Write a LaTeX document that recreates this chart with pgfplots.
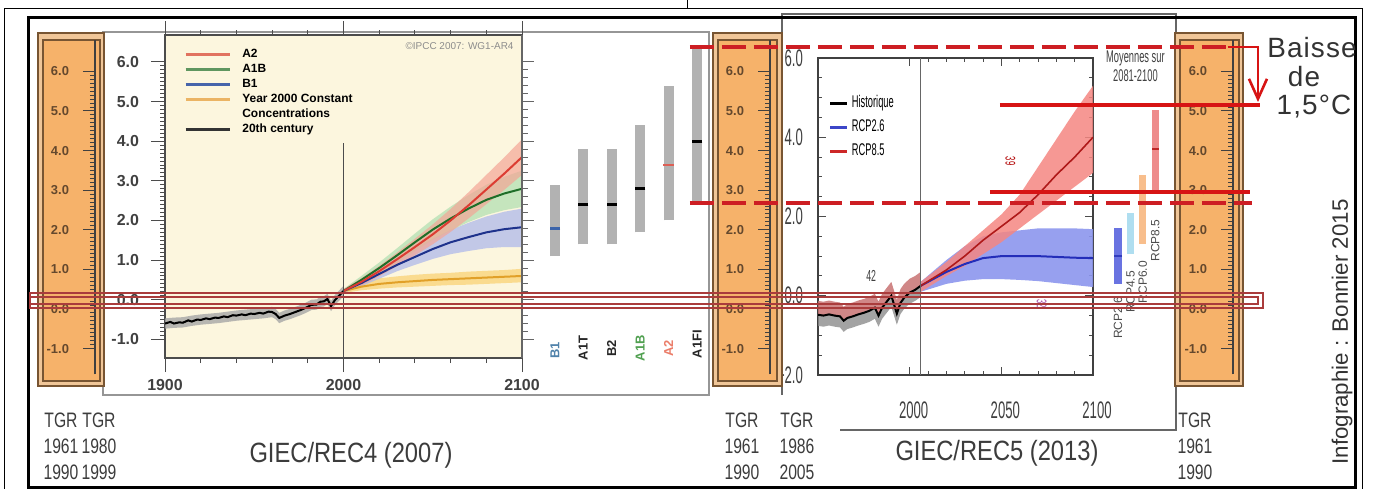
\documentclass[border=0pt]{standalone}
\usepackage{fontspec}
\setmainfont{Liberation Sans}
\newfontfamily\condA[FakeStretch=0.55]{Liberation Sans}
\newfontfamily\condB[FakeStretch=0.75]{Liberation Sans}
\newfontfamily\condC[FakeStretch=0.85]{Liberation Sans}
\newfontfamily\spaced[LetterSpace=4]{Liberation Sans}
\usepackage{pgfplots}
\usepackage{pgfplotstable}
\usetikzlibrary{arrows.meta}
\pgfplotsset{compat=1.18}

\definecolor{cream}{RGB}{252,246,222}
\definecolor{orOut}{RGB}{240,198,152}
\definecolor{orIn}{RGB}{246,178,106}
\definecolor{brownB}{RGB}{120,85,50}
\definecolor{scaleTxt}{RGB}{100,72,45}
\definecolor{panelGray}{RGB}{150,150,150}
\definecolor{barGray}{RGB}{178,178,178}
\definecolor{redA}{RGB}{205,30,35}
\definecolor{redB}{RGB}{215,20,20}
\definecolor{boxRed}{RGB}{170,60,60}
\definecolor{a2c}{RGB}{220,60,50}
\definecolor{a2band}{RGB}{244,165,150}
\definecolor{a1bc}{RGB}{30,110,40}
\definecolor{a1bband}{RGB}{175,222,175}
\definecolor{b1c}{RGB}{30,50,140}
\definecolor{b1band}{RGB}{175,185,235}
\definecolor{cstc}{RGB}{225,160,40}
\definecolor{cstband}{RGB}{250,215,130}
\definecolor{rcpEbB}{RGB}{245,135,130}
\definecolor{rcpEbC}{RGB}{175,25,25}
\definecolor{rcpTwB}{RGB}{140,150,238}
\definecolor{rcpTwC}{RGB}{35,45,185}
\definecolor{histpink}{RGB}{200,115,115}
\definecolor{txtGray}{RGB}{60,60,60}

% ---------------- data (central lines) ----------------
\pgfplotstableread{
x y
1900 -0.60
1903 -0.56
1905 -0.60
1908 -0.57
1910 -0.58
1913 -0.52
1915 -0.55
1918 -0.50
1920 -0.51
1923 -0.47
1925 -0.49
1928 -0.45
1930 -0.46
1933 -0.42
1935 -0.44
1938 -0.39
1940 -0.40
1943 -0.37
1945 -0.39
1948 -0.35
1950 -0.36
1953 -0.33
1955 -0.35
1958 -0.30
1960 -0.31
1962 -0.36
1964 -0.46
1967 -0.40
1970 -0.36
1973 -0.31
1976 -0.26
1979 -0.20
1982 -0.13
1985 -0.12
1987 -0.05
1989 -0.04
1991 0.02
1993 -0.16
1995 -0.02
1997 0.08
2000 0.22
}\twentieth
\pgfplotstableread{
x y
2000 0.22
2010 0.45
2020 0.72
2030 1.02
2040 1.33
2050 1.65
2060 2.00
2070 2.38
2080 2.78
2090 3.18
2100 3.60
}\atwo
\pgfplotstableread{
x y
2000 0.22
2010 0.50
2020 0.80
2030 1.12
2040 1.45
2050 1.77
2060 2.05
2070 2.30
2080 2.52
2090 2.68
2100 2.80
}\aoneb
\pgfplotstableread{
x y
2000 0.22
2010 0.42
2020 0.65
2030 0.88
2040 1.08
2050 1.28
2060 1.45
2070 1.58
2080 1.70
2090 1.78
2100 1.83
}\bone
\pgfplotstableread{
x y
2000 0.22
2010 0.33
2020 0.40
2030 0.44
2040 0.47
2050 0.50
2060 0.52
2070 0.54
2080 0.56
2090 0.58
2100 0.60
}\cst
\pgfplotstableread{
x y
1950 -0.48
1953 -0.50
1956 -0.47
1959 -0.50
1962 -0.52
1964 -0.63
1966 -0.56
1969 -0.52
1972 -0.47
1975 -0.43
1978 -0.38
1981 -0.30
1983 -0.50
1985 -0.30
1987 -0.18
1990 0.00
1993 -0.45
1995 -0.18
1997 -0.05
2000 0.08
2003 0.15
2006 0.25
}\hist
\pgfplotstableread{
x y
2006 0.25
2020 0.65
2030 1.00
2040 1.40
2050 1.75
2060 2.10
2070 2.55
2080 3.05
2090 3.50
2100 4.00
}\rcpeight
\pgfplotstableread{
x y
2006 0.25
2020 0.60
2030 0.80
2040 0.95
2050 1.00
2060 1.00
2070 1.00
2080 0.98
2090 0.96
2100 0.95
}\rcptwo

\pgfplotsset{
  scaleaxis/.style={anchor=south west, scale only axis, width=2bp, height=167.3bp,
    xmin=0, xmax=1, ymin=-1.65, ymax=6.8,
    axis x line=none, axis y line*=left,
    ytick={-1,0,...,6}, minor y tick num=9,
    tick align=outside, major tick length=6bp, minor tick length=2.5bp,
    axis line style={line width=0.8bp, black!75},
    tick style={line width=0.5bp, black!75},
    /pgf/number format/assume math mode=true,
    yticklabel style={xshift=-3.5bp, font=\bfseries\fontsize{6.5}{7}\selectfont, text=scaleTxt,
      /pgf/number format/.cd, fixed, fixed zerofill, precision=1}},
}

\begin{document}
\begin{tikzpicture}
\useasboundingbox (0bp,0bp) rectangle (688.5bp,-244.5bp);

\begin{scope}[x=0.5bp,y=-0.5bp]
  \fill[white] (0,0) rectangle (1377,489);
  \draw[line width=0.5bp] (5,489) -- (5,9) -- (1363,9) -- (1363,489);
  \draw[line width=0.5bp] (688,0) -- (688,9);
  \draw[panelGray, line width=1.2bp, fill=white] (103,32) rectangle (709,395);
  \draw[black!60, line width=1bp] (782,395) -- (782,14) -- (1176,14) -- (1176,430) -- (840,430);
\end{scope}

% ---------------- AR4 chart ----------------
\begin{axis}[at={(82.5bp,-179bp)}, anchor=south west, scale only axis,
  width=178.5bp, height=161.5bp,
  xmin=1900, xmax=2100, ymin=-1.47, ymax=6.68,
  axis background/.style={fill=cream},
  axis line style={draw=black!70, line width=0.6bp},
  xtick={1900,2000,2100}, minor x tick num=4,
  ytick={-1,0,...,6}, minor y tick num=9,
  xtick pos=both, ytick pos=left,
  tick align=outside, major tick length=7bp, minor tick length=2.5bp,
  tick style={black!70, line width=0.5bp},
  /pgf/number format/assume math mode=true,
  ticklabel style={font=\bfseries\fontsize{8}{9}\selectfont, text=black!75},
  yticklabel style={xshift=-2.5bp, /pgf/number format/.cd, fixed, fixed zerofill, precision=1},
  xticklabel style={/pgf/number format/1000 sep={}},
  legend style={at={(0.052,0.965)}, anchor=north west, draw=none, fill=none,
    font=\bfseries\fontsize{6}{7}\selectfont, row sep=0pt, inner sep=0pt,
    nodes={inner sep=0.6bp, text height=4.9bp, text depth=1.4bp},
    /tikz/every odd column/.append style={column sep=5bp}},
  legend cell align=left,
  legend image code/.code={\draw[#1] (0bp,0bp) -- (22bp,0bp);},
]
% bands: upper edge forward, lower edge backward
\addplot[fill=cstband, draw=none, fill opacity=0.85, forget plot] coordinates {
 (2000,0.27)(2010,0.44)(2020,0.54)(2030,0.59)(2040,0.63)(2050,0.66)(2060,0.68)(2070,0.71)(2080,0.73)(2090,0.75)(2100,0.78)
 (2100,0.44)(2090,0.42)(2080,0.40)(2070,0.38)(2060,0.37)(2050,0.35)(2040,0.33)(2030,0.31)(2020,0.28)(2010,0.24)(2000,0.17)};
\addplot[fill=b1band, draw=none, fill opacity=0.75, forget plot] coordinates {
 (2000,0.27)(2010,0.52)(2020,0.79)(2030,1.06)(2040,1.30)(2050,1.54)(2060,1.76)(2070,1.94)(2080,2.10)(2090,2.22)(2100,2.30)
 (2100,1.33)(2090,1.33)(2080,1.30)(2070,1.23)(2060,1.15)(2050,1.03)(2040,0.88)(2030,0.72)(2020,0.53)(2010,0.34)(2000,0.17)};
\addplot[fill=a1bband, draw=none, fill opacity=0.7, forget plot] coordinates {
 (2000,0.27)(2010,0.60)(2020,0.94)(2030,1.30)(2040,1.67)(2050,2.03)(2060,2.35)(2070,2.64)(2080,2.90)(2090,3.10)(2100,3.26)
 (2100,2.34)(2090,2.26)(2080,2.14)(2070,1.96)(2060,1.75)(2050,1.51)(2040,1.23)(2030,0.94)(2020,0.66)(2010,0.40)(2000,0.17)};
\addplot[fill=a2band, draw=none, fill opacity=0.7, forget plot] coordinates {
 (2000,0.27)(2010,0.54)(2020,0.85)(2030,1.19)(2040,1.54)(2050,1.90)(2060,2.29)(2070,2.71)(2080,3.15)(2090,3.59)(2100,4.05)
 (2100,3.15)(2090,2.77)(2080,2.41)(2070,2.05)(2060,1.71)(2050,1.40)(2040,1.12)(2030,0.85)(2020,0.59)(2010,0.36)(2000,0.17)};
\addplot[fill=black!35, draw=none, fill opacity=0.8, forget plot] coordinates {
 (1900,-0.47)(1905,-0.45)(1910,-0.44)(1915,-0.40)(1920,-0.37)(1925,-0.35)(1930,-0.33)(1935,-0.30)(1940,-0.27)(1945,-0.25)(1950,-0.23)(1955,-0.21)(1960,-0.18)(1962,-0.23)(1964,-0.33)(1967,-0.27)(1970,-0.23)(1973,-0.18)(1976,-0.13)(1979,-0.07)(1982,0.00)(1985,0.01)(1987,0.08)(1989,0.09)(1991,0.15)(1993,-0.03)(1995,0.11)(1997,0.21)(2000,0.35)
 (2000,0.09)(1997,-0.05)(1995,-0.15)(1993,-0.29)(1991,-0.11)(1989,-0.17)(1987,-0.18)(1985,-0.25)(1982,-0.26)(1979,-0.33)(1976,-0.39)(1973,-0.44)(1970,-0.49)(1967,-0.53)(1964,-0.59)(1962,-0.49)(1960,-0.44)(1955,-0.47)(1950,-0.49)(1945,-0.51)(1940,-0.53)(1935,-0.56)(1930,-0.59)(1925,-0.61)(1920,-0.63)(1915,-0.66)(1910,-0.70)(1905,-0.71)(1900,-0.73)};
\addplot[cstc, line width=1bp, forget plot] table[x=x,y=y]{\cst};
\addplot[b1c, line width=1bp, forget plot] table[x=x,y=y]{\bone};
\addplot[a1bc, line width=1bp, forget plot] table[x=x,y=y]{\aoneb};
\addplot[a2c, line width=1bp, forget plot] table[x=x,y=y]{\atwo};
\addplot[black, line width=1bp, forget plot] table[x=x,y=y]{\twentieth};
\draw[black!70, line width=0.6bp] (axis cs:2000,3.95) -- (axis cs:2000,-1.47);
\node[font=\fontsize{5}{6}\selectfont, text=black!45] at (axis cs:2065,6.4) {©IPCC 2007: WG1-AR4};
\addlegendimage{line width=1.6bp, color={rgb,255:red,225;green,115;blue,95}}
\addlegendentry{A2}
\addlegendimage{line width=1.6bp, color={rgb,255:red,95;green,150;blue,95}}
\addlegendentry{A1B}
\addlegendimage{line width=1.6bp, color={rgb,255:red,70;green,100;blue,170}}
\addlegendentry{B1}
\addlegendimage{line width=1.6bp, color={rgb,255:red,235;green,180;blue,100}}
\addlegendentry{Year 2000 Constant}
\addlegendimage{empty legend}
\addlegendentry{Concentrations}
\addlegendimage{line width=1.6bp, color=black!80}
\addlegendentry{20th century}
\end{axis}

% ---------------- AR4 bars ----------------
\begin{axis}[at={(261bp,-179bp)}, anchor=south west, scale only axis,
  width=93.5bp, height=161.5bp,
  xmin=-0.154, xmax=6.42, ymin=-1.47, ymax=6.68,
  axis x line=none, axis y line*=left,
  ytick={-1,0,...,6}, yticklabels={}, minor y tick num=4,
  tick align=inside, major tick length=6bp, minor tick length=3bp,
  axis line style={draw=black!60, line width=0.6bp},
  tick style={black!60, line width=0.5bp}, clip=false]
\addplot[barGray, line width=5bp] coordinates {(1,1.1) (1,2.9)};
\addplot[barGray, line width=5bp] coordinates {(2,1.4) (2,3.8)};
\addplot[barGray, line width=5bp] coordinates {(3,1.4) (3,3.8)};
\addplot[barGray, line width=5bp] coordinates {(4,1.7) (4,4.4)};
\addplot[barGray, line width=5bp] coordinates {(5,2.0) (5,5.4)};
\addplot[barGray, line width=5bp] coordinates {(6,2.4) (6,6.4)};
\addplot[only marks, mark=-, mark size=2.6bp, mark options={line width=1.4bp, draw={rgb,255:red,60;green,100;blue,170}}] coordinates {(1,1.8)};
\addplot[only marks, mark=-, mark size=2.6bp, mark options={line width=1.4bp, draw=black}] coordinates {(2,2.4) (3,2.4) (4,2.8) (6,4.0)};
\addplot[only marks, mark=-, mark size=2.6bp, mark options={line width=1.4bp, draw={rgb,255:red,220;green,95;blue,85}}] coordinates {(5,3.4)};
\node[rotate=90, font=\bfseries\fontsize{6.5}{7}\selectfont, text={rgb,255:red,80;green,130;blue,170}] at (axis cs:1,-1.28) {B1};
\node[rotate=90, font=\bfseries\fontsize{6.5}{7}\selectfont, text=black!85] at (axis cs:2,-1.22) {A1T};
\node[rotate=90, font=\bfseries\fontsize{6.5}{7}\selectfont, text=black!85] at (axis cs:3,-1.22) {B2};
\node[rotate=90, font=\bfseries\fontsize{6.5}{7}\selectfont, text={rgb,255:red,80;green,160;blue,80}] at (axis cs:4,-1.22) {A1B};
\node[rotate=90, font=\bfseries\fontsize{6.5}{7}\selectfont, text={rgb,255:red,235;green,125;blue,105}] at (axis cs:5,-1.22) {A2};
\node[rotate=90, font=\bfseries\fontsize{6.5}{7}\selectfont, text=black!85] at (axis cs:6,-1.12) {A1FI};
\end{axis}

% ---------------- AR5 chart ----------------
\begin{axis}[at={(409bp,-187.5bp)}, anchor=south west, scale only axis,
  width=137.5bp, height=158.5bp,
  xmin=1950, xmax=2100, ymin=-2, ymax=6,
  axis line style={draw=black!75, line width=0.7bp},
  xtick={2000,2050,2100}, minor x tick num=4,
  ytick={-2,0,...,6}, yticklabels={−2.0,0.0,2.0,4.0,6.0}, minor y tick num=3,
  xtick pos=both, ytick pos=both,
  tick align=inside, major tick length=4bp, minor tick length=2bp,
  tick style={black!70, line width=0.5bp},
  /pgf/number format/assume math mode=true,
  ticklabel style={font=\condA\fontsize{12}{13}\selectfont, text=black!75},
  yticklabel style={xshift=-4bp},
  xticklabel style={xshift=2bp, yshift=-10bp, /pgf/number format/1000 sep={}},
  legend style={at={(0.036,0.888)}, anchor=north west, draw=none, fill=none,
    font=\condA\fontsize{8.5}{10}\selectfont, row sep=2.5bp, inner sep=0pt,
    nodes={inner sep=0.5bp, text height=6.5bp, text depth=2bp},
    /tikz/every odd column/.append style={column sep=1bp}},
  legend cell align=left,
  legend image code/.code={\draw[#1] (0bp,0bp) -- (8.5bp,0bp);},
]
\addplot[fill=histpink, draw=none, fill opacity=0.85, forget plot] coordinates {
 (1950,-0.48)(1953,-0.50)(1956,-0.47)(1959,-0.50)(1962,-0.52)(1964,-0.63)(1966,-0.56)(1969,-0.52)(1972,-0.47)(1975,-0.43)(1978,-0.38)(1981,-0.30)(1983,-0.50)(1985,-0.30)(1987,-0.18)(1990,0.00)(1993,-0.45)(1995,-0.18)(1997,-0.05)(2000,0.08)(2003,0.15)(2006,0.25)
 (2006,0.60)(2003,0.50)(2000,0.43)(1997,0.30)(1995,0.17)(1993,-0.10)(1990,0.35)(1987,0.17)(1985,0.05)(1983,-0.15)(1981,0.05)(1978,-0.03)(1975,-0.08)(1972,-0.12)(1969,-0.17)(1966,-0.21)(1964,-0.28)(1962,-0.17)(1959,-0.15)(1956,-0.12)(1953,-0.15)(1950,-0.13)};
\addplot[fill=black!45, draw=none, fill opacity=0.8, forget plot] coordinates {
 (1950,-0.48)(1953,-0.50)(1956,-0.47)(1959,-0.50)(1962,-0.52)(1964,-0.63)(1966,-0.56)(1969,-0.52)(1972,-0.47)(1975,-0.43)(1978,-0.38)(1981,-0.30)(1983,-0.50)(1985,-0.30)(1987,-0.18)(1990,0.00)(1993,-0.45)(1995,-0.18)(1997,-0.05)(2000,0.08)(2003,0.15)(2006,0.25)
 (2006,-0.03)(2003,-0.13)(2000,-0.20)(1997,-0.33)(1995,-0.46)(1993,-0.73)(1990,-0.28)(1987,-0.46)(1985,-0.58)(1983,-0.78)(1981,-0.58)(1978,-0.66)(1975,-0.71)(1972,-0.75)(1969,-0.80)(1966,-0.84)(1964,-0.91)(1962,-0.80)(1959,-0.78)(1956,-0.75)(1953,-0.78)(1950,-0.76)};
\addplot[fill=rcpTwB, draw=none, fill opacity=0.9, forget plot] coordinates {
 (2006,0.35)(2020,0.90)(2030,1.25)(2040,1.50)(2050,1.60)(2060,1.65)(2070,1.70)(2080,1.70)(2090,1.70)(2100,1.68)
 (2100,0.22)(2090,0.27)(2080,0.32)(2070,0.37)(2060,0.40)(2050,0.42)(2040,0.42)(2030,0.38)(2020,0.30)(2006,0.10)};
\addplot[fill=rcpEbB, draw=none, fill opacity=0.85, forget plot] coordinates {
 (2006,0.35)(2020,0.85)(2030,1.25)(2040,1.65)(2050,2.05)(2060,2.55)(2070,3.25)(2080,3.95)(2090,4.65)(2100,5.30)
 (2100,3.10)(2090,2.75)(2080,2.40)(2070,2.05)(2060,1.70)(2050,1.35)(2040,1.05)(2030,0.75)(2020,0.50)(2006,0.10)};
\addplot[rcpTwC, line width=1bp, forget plot] table[x=x,y=y]{\rcptwo};
\addplot[rcpEbC, line width=0.8bp, forget plot] table[x=x,y=y]{\rcpeight};
\addplot[black, line width=1bp, forget plot] table[x=x,y=y]{\hist};
\draw[black!60, line width=0.7bp] (axis cs:2006,-2) -- (axis cs:2006,6);
\node[font=\condA\fontsize{8}{9}\selectfont, text=black!75] at (axis cs:1979,0.5) {42};
\node[rotate=-90, font=\condA\fontsize{7}{8}\selectfont, text=red!70!black] at (axis cs:2055,3.4) {39};
\node[rotate=-90, font=\condA\fontsize{7}{8}\selectfont, text=violet!70] at (axis cs:2072,-0.2) {32};
\addlegendimage{line width=1.8bp, color=black}
\addlegendentry{Historique}
\addlegendimage{line width=1.8bp, color={rgb,255:red,60;green,70;blue,200}}
\addlegendentry{RCP2.6}
\addlegendimage{line width=1.8bp, color={rgb,255:red,205;green,40;blue,40}}
\addlegendentry{RCP8.5}
\end{axis}

% ---------------- AR5 bars ----------------
\begin{axis}[at={(547.5bp,-187.5bp)}, anchor=south west, scale only axis,
  width=37.5bp, height=158.5bp,
  xmin=-0.87, xmax=5.2, ymin=-2, ymax=6, hide axis, clip=false]
\addplot[color={rgb,255:red,105;green,115;blue,225}, line width=4bp] coordinates {(1,0.3) (1,1.7)};
\addplot[color={rgb,255:red,175;green,222;blue,240}, line width=3.5bp] coordinates {(2,1.05) (2,2.1)};
\addplot[color={rgb,255:red,248;green,190;blue,140}, line width=3.5bp] coordinates {(3,1.3) (3,3.05)};
\addplot[color={rgb,255:red,238;green,140;blue,140}, line width=3.5bp] coordinates {(4,2.65) (4,4.7)};
\addplot[only marks, mark=-, mark size=2bp, mark options={line width=1bp, draw={rgb,255:red,50;green,60;blue,190}}] coordinates {(1,1.0)};
\addplot[only marks, mark=-, mark size=1.8bp, mark options={line width=1bp, draw={rgb,255:red,190;green,40;blue,40}}] coordinates {(4,3.7)};
\node[rotate=90, anchor=east, font=\fontsize{6}{7}\selectfont, text=black!70] at (axis cs:1,0.15) {RCP2.6};
\node[rotate=90, anchor=east, font=\fontsize{6}{7}\selectfont, text=black!70] at (axis cs:2,0.8) {RCP4.5};
\node[rotate=90, anchor=east, font=\fontsize{6}{7}\selectfont, text=black!70] at (axis cs:3,1.05) {RCP6.0};
\node[rotate=90, anchor=east, font=\fontsize{6}{7}\selectfont, text=black!70] at (axis cs:4,2.1) {RCP8.5};
\node[font=\condA\fontsize{8.5}{9.5}\selectfont, text=black!75, align=center] at (axis cs:2.4,5.8) {Moyennes sur\\2081-2100};
\end{axis}

% ---------------- orange scales ----------------
\begin{scope}[x=0.5bp,y=-0.5bp]
  \draw[brownB, line width=0.8bp, fill=orOut] (38,33) rectangle (104,386);
  \draw[brownB, line width=0.6bp, fill=orIn] (43,40) rectangle (100,381);
  \draw[brownB, line width=0.8bp, fill=orOut] (713,33) rectangle (782,386);
  \draw[brownB, line width=0.6bp, fill=orIn] (718,40) rectangle (777,381);
  \draw[brownB, line width=0.8bp, fill=orOut] (1175,33) rectangle (1243,386);
  \draw[brownB, line width=0.6bp, fill=orIn] (1180,40) rectangle (1239,381);
\end{scope}
\begin{axis}[scaleaxis, at={(47.5bp,-187.15bp)}]
\addplot[draw=none] coordinates {(0,0) (1,1)};
\end{axis}
\begin{axis}[scaleaxis, at={(385bp,-187.15bp)}]
\addplot[draw=none] coordinates {(0,0) (1,1)};
\end{axis}
\begin{axis}[scaleaxis, at={(616.5bp,-187.15bp)}]
\addplot[draw=none] coordinates {(0,0) (1,1)};
\end{axis}

% ---------------- overlays ----------------
\begin{scope}[x=0.5bp,y=-0.5bp]
  \draw[black, line width=1.5bp] (29,18) rectangle (1356,488);
  % zero band
  \draw[boxRed, line width=0.7bp] (30,293) rectangle (1263,308);
  \draw[boxRed, line width=0.7bp] (30,297) rectangle (1258,304);
  % red lines
  \draw[redA, line width=2bp, dash pattern=on 12bp off 4bp] (690,47) -- (1232,47);
  \draw[redA, line width=2bp, dash pattern=on 12bp off 4bp] (690,203) -- (1252,203);
  \draw[redB, line width=2bp] (1000,105) -- (1260,105);
  \draw[redB, line width=2bp] (990,192) -- (1250,192);
  \draw[redB, line width=1.3bp, -{Straight Barb[length=10bp,width=9bp]}] (1228,47) -- (1258,47) -- (1258,102);
  % texts
  \node[anchor=base, font=\spaced\fontsize{14}{16}\selectfont, text=black!80] at (1312,57) {Baisse};
  \node[anchor=base, font=\spaced\fontsize{14}{16}\selectfont, text=black!80] at (1304,87) {de};
  \node[anchor=base, font=\spaced\fontsize{14}{16}\selectfont, text=black!80] at (1314,115) {1,5°C};
  \node[rotate=90, anchor=base, font=\fontsize{11.2}{13}\selectfont, text=black!80] at (1348,332) {Infographie : Bonnier 2015};
  \node[align=center, font=\condB\fontsize{10.5}{13}\selectfont, text=txtGray] at (61,446) {TGR\\1961\\1990};
  \node[align=center, font=\condB\fontsize{10.5}{13}\selectfont, text=txtGray] at (99,446) {TGR\\1980\\1999};
  \node[align=center, font=\condB\fontsize{10.5}{13}\selectfont, text=txtGray] at (742,446) {TGR\\1961\\1990};
  \node[align=center, font=\condB\fontsize{10.5}{13}\selectfont, text=txtGray] at (797,446) {TGR\\1986\\2005};
  \node[align=center, font=\condB\fontsize{10.5}{13}\selectfont, text=txtGray] at (1195,446) {TGR\\1961\\1990};
  \node[font=\condC\fontsize{14}{16}\selectfont, text=txtGray] at (351,455) {GIEC/REC4 (2007)};
  \node[font=\condC\fontsize{14}{16}\selectfont, text=txtGray] at (997,453) {GIEC/REC5 (2013)};
\end{scope}
\end{tikzpicture}
\end{document}
